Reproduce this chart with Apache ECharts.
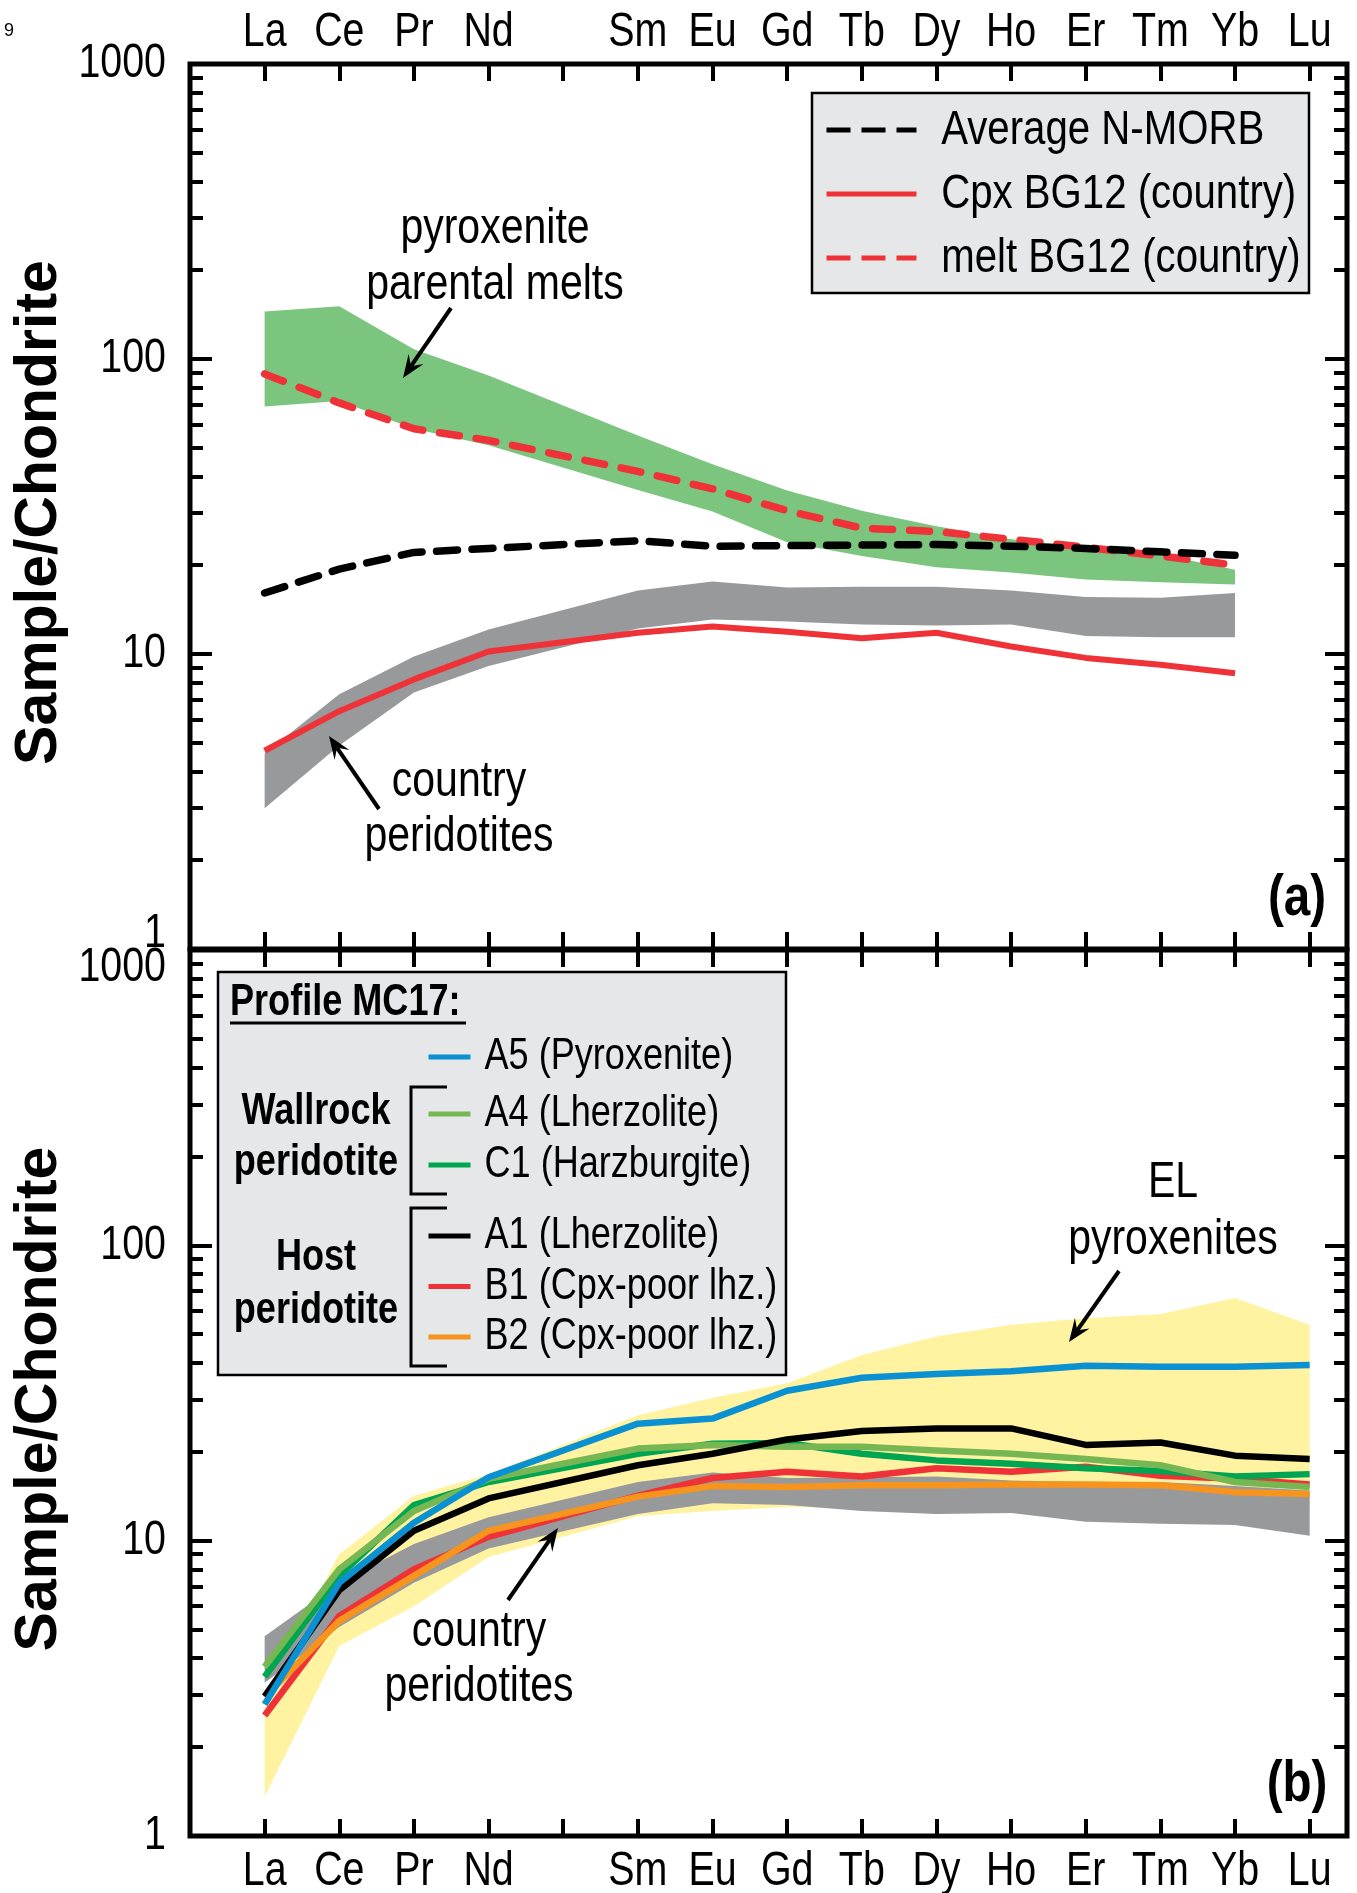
<!DOCTYPE html>
<html>
<head>
<meta charset="utf-8">
<script src="https://cdn.jsdelivr.net/npm/echarts@6/dist/echarts.min.js"></script>
<style>
  html, body { margin: 0; padding: 0; background: #fff; }
  #chart { width: 1357px; height: 1893px; }
</style>
</head>
<body>
<div id="chart"></div>
<script>
// Rare earth elements in atomic order (Pm is ticked but carries no data or label)
const elements = ['La', 'Ce', 'Pr', 'Nd', 'Pm', 'Sm', 'Eu', 'Gd', 'Tb', 'Dy', 'Ho', 'Er', 'Tm', 'Yb', 'Lu'];
const tickLabels = ['La', 'Ce', 'Pr', 'Nd', '', 'Sm', 'Eu', 'Gd', 'Tb', 'Dy', 'Ho', 'Er', 'Tm', 'Yb', 'Lu'];
const yMajorTicks = [1, 10, 100, 1000];
const yMinorTicks = [2, 3, 4, 5, 6, 7, 8, 9, 20, 30, 40, 50, 60, 70, 80, 90, 200, 300, 400, 500, 600, 700, 800, 900];

// ---- Panel (a): chondrite-normalised REE ----
const nMorb          = [16.1, 19.4, 22.1, 22.8, null, 24.2, 23.2, 23.3, 23.4, 23.5, 23.2, 22.8, 22.2, 21.6, null];
const meltBG12       = [89, 71, 58, 53, null, 41.6, 36.3, 30.6, 26.7, 26.0, 24.5, 23.0, 21.5, 20.0, null];
const cpxBG12        = [4.7, 6.4, 8.2, 10.2, null, 11.8, 12.4, 11.9, 11.3, 11.8, 10.6, 9.7, 9.2, 8.6, null];
const parentalMax    = [145, 151, 108, 88, null, 55, 44, 35.8, 30.6, 27.1, 24.5, 23.0, 21.8, 19.3, null];
const parentalMin    = [69, 72, 58, 51, null, 36, 30.4, 23.9, 21.5, 19.7, 18.9, 17.9, 17.5, 17.2, null];
const countryMaxA    = [4.6, 7.3, 9.8, 12.1, null, 16.4, 17.6, 16.8, 16.9, 16.9, 16.4, 15.6, 15.5, 16.1, null];
const countryMinA    = [3.0, 4.9, 7.4, 9.1, null, 12.2, 13.1, 12.9, 12.6, 12.5, 12.6, 11.5, 11.4, 11.4, null];

// ---- Panel (b): profile MC17 ----
const sampleA5       = [2.79, 7.2, 11.5, 16.4, null, 24.9, 25.9, 32.2, 35.6, 36.7, 37.5, 39.1, 38.8, 38.8, 39.3];
const sampleA4       = [3.74, 8.0, 12.6, 16.2, null, 20.5, 21.1, 20.8, 20.8, 20.2, 19.7, 18.9, 18.0, 15.8, 15.2];
const sampleC1       = [3.46, 7.6, 13.2, 15.8, null, 19.7, 21.3, 21.4, 19.7, 18.7, 18.2, 17.6, 17.2, 16.5, 16.8];
const sampleA1       = [2.97, 6.8, 10.8, 13.9, null, 18.0, 19.7, 22.0, 23.5, 24.0, 24.0, 21.1, 21.5, 19.4, 18.9];
const sampleB1       = [2.56, 5.56, 8.0, 10.3, null, 14.2, 16.3, 17.1, 16.5, 17.6, 17.1, 17.8, 16.6, 16.2, 15.5];
const sampleB2       = [2.95, 5.35, 7.6, 10.8, null, 14.1, 15.3, 15.2, 15.4, 15.4, 15.5, 15.5, 15.4, 14.6, 14.4];
const countryMaxB    = [4.75, 7.2, 9.75, 12.0, null, 15.8, 17.0, 16.3, 16.4, 16.5, 16.0, 15.8, 15.8, 15.3, 14.8];
const countryMinB    = [3.3, 5.1, 7.2, 9.4, null, 12.3, 13.4, 13.2, 12.6, 12.3, 12.4, 11.6, 11.4, 11.3, 10.4];
const elPyxMax       = [3.0, 9.0, 14.2, 16.8, null, 26.6, 30.5, 34.1, 42.5, 49.1, 53.8, 56.6, 58.6, 66.3, 53.8];
const elPyxMin       = [1.36, 4.4, 6.0, 8.8, null, 12.1, 12.6, 13.0, 12.9, 12.6, 12.4, 13.2, 14.0, 14.8, 15.5];

// Condensed lettering: Liberation Sans squeezed horizontally after layout (see condense()).
const NARROW = "'Liberation Sans', Arimo, sans-serif";
const SANS = "'Liberation Sans', Arial, Helvetica, sans-serif";
const SQUEEZE = 0.82;

const C = {
  red: '#ee3238', blue: '#0a91d1', ltGreen: '#77b753', green: '#00a551',
  orange: '#f7941e', band: '#7cc57f', gray: '#98999b', yellow: '#fff3a1', box: '#e6e7e8'
};

const tickIdx = elements.map((_, i) => i);
const labelIdx = tickIdx.filter(i => tickLabels[i] !== '');

function pairs(arr) {
  const out = [];
  arr.forEach((v, i) => { if (v != null) out.push([i, v]); });
  return out;
}

function xAxis(gridIndex, position, showLabels, margin) {
  return {
    type: 'value', gridIndex, position, min: -1, max: 14.5, interval: 1,
    axisLine: { show: false, onZero: false },
    splitLine: { show: false },
    axisTick: { show: true, inside: true, length: 17, customValues: tickIdx,
                lineStyle: { color: '#000', width: 4 } },
    axisLabel: {
      show: showLabels, customValues: labelIdx, margin,
      fontSize: 48, fontFamily: NARROW, color: '#000',
      formatter: v => tickLabels[Math.round(v)] || ''
    }
  };
}

function yAxis(gridIndex, position, major, labelOpts, nameOpts) {
  const ax = {
    type: 'log', logBase: 10, min: 1, max: 1000, gridIndex, position,
    axisLine: { show: false, onZero: false },
    splitLine: { show: false },
    minorTick: { show: false },
    axisTick: { show: true, inside: true, length: major ? 22 : 13,
                customValues: major ? yMajorTicks : yMinorTicks,
                lineStyle: { color: '#000', width: 4 } },
    axisLabel: { show: false }
  };
  if (labelOpts) {
    ax.axisLabel = Object.assign({
      show: true, customValues: yMajorTicks, margin: 24,
      fontSize: 48, fontFamily: NARROW, color: '#000'
    }, labelOpts);
  }
  if (nameOpts) Object.assign(ax, nameOpts);
  return ax;
}

const yTitle = {
  name: 'Sample/Chondrite', nameLocation: 'middle', nameRotate: 90, nameGap: 121, nameMoveOverlap: false,
  nameTextStyle: { fontSize: 59, fontWeight: 'bold', fontFamily: SANS, color: '#000', padding: [0, 12, 0, 0] }
};

function band(name, upper, lower, color, xi, yi) {
  return {
    type: 'custom', name, xAxisIndex: xi, yAxisIndex: yi, silent: true,
    data: [[0, 1]],
    renderItem: (params, api) => {
      const top = pairs(upper).map(p => api.coord(p));
      const bottom = pairs(lower).map(p => api.coord(p)).reverse();
      return { type: 'polygon', shape: { points: top.concat(bottom) }, style: { fill: color } };
    }
  };
}

function line(name, values, color, width, xi, yi, dash) {
  return {
    type: 'line', name, xAxisIndex: xi, yAxisIndex: yi, data: pairs(values),
    symbol: 'none', silent: true,
    itemStyle: { color },
    lineStyle: { color, width, type: dash || 'solid', cap: dash ? 'round' : 'butt', join: 'round' }
  };
}

function arrow(x1, y1, x2, y2) {
  const dx = x2 - x1, dy = y2 - y1, len = Math.hypot(dx, dy);
  const ux = dx / len, uy = dy / len, nx = -uy, ny = ux;
  const L = 23, W = 9;
  const bx = x2 - ux * L, by = y2 - uy * L;
  const mx = x2 - ux * L * 0.62, my = y2 - uy * L * 0.62;
  return [
    { type: 'line', z: 20, shape: { x1, y1, x2: mx, y2: my }, style: { stroke: '#000', lineWidth: 4 } },
    { type: 'polygon', z: 20, shape: { points: [[x2, y2], [bx + nx * W, by + ny * W], [mx, my], [bx - nx * W, by - ny * W]] },
      style: { fill: '#000' } }
  ];
}

function label(text, x, y, size, opts) {
  return {
    type: 'text', x, y, z: 20,
    style: Object.assign({
      text, fontSize: size, fontFamily: NARROW, fill: '#000', align: 'center', verticalAlign: 'middle'
    }, opts || {})
  };
}

const grids = [
  { left: 190, top: 64, width: 1157, height: 885, show: true, borderColor: '#000', borderWidth: 5,
    backgroundColor: 'transparent', containLabel: false, outerBoundsMode: 'none' },
  { left: 190, top: 950, width: 1157, height: 886, show: true, borderColor: '#000', borderWidth: 5,
    backgroundColor: 'transparent', containLabel: false, outerBoundsMode: 'none' }
];

const xAxes = [
  xAxis(0, 'top', true, 7),
  xAxis(0, 'bottom', false, 8),
  xAxis(1, 'top', false, 8),
  xAxis(1, 'bottom', true, 12)
];

const yAxes = [
  yAxis(0, 'left', true, {
    formatter: v => (Math.round(v) === 1 ? '{up|1}' : String(Math.round(v))),
    rich: { up: { fontSize: 48, fontFamily: NARROW, color: '#000', padding: [0, 0, 30, 0] } }
  }, yTitle),
  yAxis(0, 'left', false),
  yAxis(0, 'right', true),
  yAxis(0, 'right', false),
  yAxis(1, 'left', true, {
    formatter: v => (Math.round(v) === 1000 ? '{dn|1000}' : String(Math.round(v))),
    rich: { dn: { fontSize: 48, fontFamily: NARROW, color: '#000', padding: [36, 0, 0, 0] } }
  }, yTitle),
  yAxis(1, 'left', false),
  yAxis(1, 'right', true),
  yAxis(1, 'right', false)
];

const series = [
  // panel (a)
  band('pyroxenite parental melts', parentalMax, parentalMin, C.band, 0, 0),
  band('country peridotites (a)', countryMaxA, countryMinA, C.gray, 0, 0),
  line('Cpx BG12 (country)', cpxBG12, C.red, 6, 0, 0),
  line('melt BG12 (country)', meltBG12, C.red, 7.5, 0, 0, [20, 17]),
  line('Average N-MORB', nMorb, '#000', 7.5, 0, 0, [21, 14.5]),
  // panel (b)
  band('EL pyroxenites', elPyxMax, elPyxMin, C.yellow, 2, 4),
  band('country peridotites (b)', countryMaxB, countryMinB, C.gray, 2, 4),
  line('B1 (Cpx-poor lhz.)', sampleB1, C.red, 6.5, 2, 4),
  line('B2 (Cpx-poor lhz.)', sampleB2, C.orange, 6.5, 2, 4),
  line('C1 (Harzburgite)', sampleC1, C.green, 6.5, 2, 4),
  line('A4 (Lherzolite)', sampleA4, C.ltGreen, 6.5, 2, 4),
  line('A1 (Lherzolite)', sampleA1, '#000', 6.5, 2, 4),
  line('A5 (Pyroxenite)', sampleA5, C.blue, 6.5, 2, 4)
];

function sampleLegend(top, names, lineHeight) {
  return {
    orient: 'vertical', left: 426, top, padding: 0, itemGap: 0, z: 30,
    itemWidth: 42, itemHeight: 14, selectedMode: false,
    itemStyle: { opacity: 0 },
    data: names.map(n => ({ name: n, lineStyle: { width: 5, type: 'solid', cap: 'butt' } })),
    textStyle: { fontSize: 44, fontFamily: NARROW, color: '#000', lineHeight, padding: [0, 0, 0, 11] }
  };
}

const legends = [
  {
    orient: 'vertical', left: 824, top: 98, padding: 0, itemGap: 0, z: 30,
    itemWidth: 90, itemHeight: 20, selectedMode: false,
    itemStyle: { opacity: 0 },
    data: [
      { name: 'Average N-MORB', lineStyle: { width: 5, type: [24, 11], cap: 'butt' } },
      { name: 'Cpx BG12 (country)', lineStyle: { width: 5, type: 'solid', cap: 'butt' } },
      { name: 'melt BG12 (country)', lineStyle: { width: 5, type: [24, 11], cap: 'butt' } }
    ],
    textStyle: { fontSize: 49, fontFamily: NARROW, color: '#000', lineHeight: 64, padding: [0, 0, 0, 24] }
  },
  sampleLegend(1031.5, ['A5 (Pyroxenite)'], 51),
  sampleLegend(1088.5, ['A4 (Lherzolite)', 'C1 (Harzburgite)'], 51),
  sampleLegend(1210.75, ['A1 (Lherzolite)', 'B1 (Cpx-poor lhz.)', 'B2 (Cpx-poor lhz.)'], 50.5)
];

const bold = { fontWeight: 'bold' };
const graphics = [
  { type: 'text', x: 4, y: 31, z: 20, style: { text: '9', fontSize: 18, fontFamily: SANS, fill: '#000', align: 'left', verticalAlign: 'middle' } },
  // legend boxes
  { type: 'rect', z: 10, shape: { x: 812, y: 93, width: 497, height: 200 },
    style: { fill: C.box, stroke: '#000', lineWidth: 2.5 } },
  { type: 'rect', z: 10, shape: { x: 218, y: 972, width: 568, height: 403 },
    style: { fill: C.box, stroke: '#000', lineWidth: 2.5 } },
  // legend headings and groups
  label('Profile MC17:', 230, 1003, 44, Object.assign({ align: 'left' }, bold)),
  { type: 'line', z: 20, shape: { x1: 230, y1: 1023, x2: 466, y2: 1023 }, style: { stroke: '#000', lineWidth: 3 } },
  label('Wallrock', 316, 1112, 44, bold),
  label('peridotite', 316, 1163, 44, bold),
  label('Host', 316, 1258, 44, bold),
  label('peridotite', 316, 1311, 44, bold),
  { type: 'polyline', z: 20, shape: { points: [[447, 1087], [411, 1087], [411, 1194], [447, 1194]] },
    style: { stroke: '#000', lineWidth: 3, fill: null } },
  { type: 'polyline', z: 20, shape: { points: [[447, 1208], [411, 1208], [411, 1366], [447, 1366]] },
    style: { stroke: '#000', lineWidth: 3, fill: null } },
  // annotations, panel (a)
  label('pyroxenite', 495, 229, 50),
  label('parental melts', 495, 285, 50),
  ...arrow(451, 308, 403, 378),
  label('country', 459, 782, 50),
  label('peridotites', 459, 837, 50),
  ...arrow(379, 809, 329, 736),
  label('(a)', 1297, 899, 58, bold),
  // annotations, panel (b)
  label('EL', 1173, 1183, 50),
  label('pyroxenites', 1173, 1240, 50),
  ...arrow(1119, 1271, 1069, 1342),
  label('country', 479, 1632, 50),
  label('peridotites', 479, 1687, 50),
  ...arrow(508, 1600, 558, 1528),
  label('(b)', 1297, 1785, 58, bold)
];

const chart = echarts.init(document.getElementById('chart'), null, { renderer: 'canvas' });
chart.setOption({
  animation: false,
  backgroundColor: '#fff',
  grid: grids,
  xAxis: xAxes,
  yAxis: yAxes,
  legend: legends,
  series,
  graphic: graphics
});

// Squeeze every text set in the narrow family about its own anchor point,
// giving condensed lettering without a dedicated condensed font file.
function condense(ch) {
  const zr = ch.getZr();
  const walk = el => {
    if (el.type === 'text' && !el.__condensed) {
      const s = el.style || {};
      const fam = String(s.fontFamily || s.font || '');
      if (fam.indexOf('Arimo') >= 0) {
        el.__condensed = true;
        el.attr({ originX: s.x || 0, originY: s.y || 0, scaleX: (el.scaleX || 1) * SQUEEZE });
      }
    }
    if (el.isGroup) el.eachChild(walk);
  };
  zr.storage.getRoots().forEach(walk);
  zr.refresh();
}
condense(chart);
</script>
</body>
</html>
